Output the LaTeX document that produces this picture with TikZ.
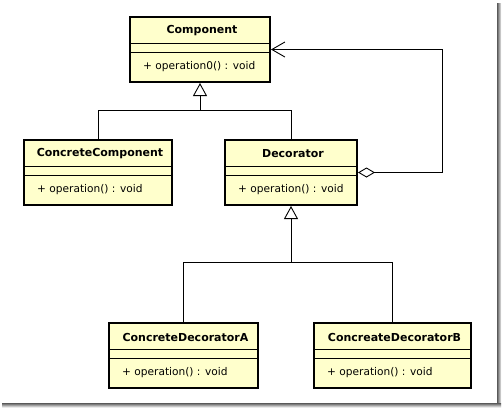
\documentclass[tikz,border=0pt]{standalone}
\usepackage{fontspec}
\setmainfont{DejaVu Sans}
\usetikzlibrary{arrows.meta,calc}
\definecolor{umlfill}{HTML}{FFFFCC}
\begin{document}
\begin{tikzpicture}[x=1pt,y=-1pt,
  classbox/.style={draw,fill=umlfill,line width=2pt,minimum height=65pt,inner sep=0pt,anchor=north west},
  titletext/.style={font=\fontsize{11}{13}\selectfont\bfseries,inner sep=0pt,anchor=center},
  optext/.style={font=\fontsize{10.6}{12}\selectfont,inner sep=0pt,anchor=west},
  divider/.style={line width=0.9pt},
  conn/.style={line width=0.9pt},
  gen/.style={conn,-{Triangle[open,length=13pt,width=14pt,line width=0.9pt]}},
  shadowR/.style={left color=black!65,right color=black!8,draw=none},
  shadowB/.style={top color=black!65,bottom color=black!8,draw=none}]
\useasboundingbox (0,0) rectangle (502,408);
\fill[white] (0,0) rectangle (502,408);
% frame shadow
\shade[shadowR] (497,3) rectangle (501,406);
\shade[shadowB] (2,403) rectangle (501,407);

% class macro-like drawing
\newcommand{\umlclass}[6]{%
  % #1 name, #2 left x, #3 top y, #4 width, #5 title, #6 operation
  \node[classbox,minimum width=#4pt] (#1) at (#2,#3) {};
  \draw[divider] ($(#1.north west)+(0,27)$) -- ($(#1.north east)+(0,27)$);
  \draw[divider] ($(#1.north west)+(0,36)$) -- ($(#1.north east)+(0,36)$);
  \node[titletext] (#1-t) at ($(#1.north)+(2,15)$) {#5};
  \node[optext] (#1-o) at ($(#1.north west)+(14,51)$) {#6};
}

\umlclass{comp}{129}{16}{140}{Component}{+ operation0() : void}
\umlclass{cc}{23}{139}{148}{ConcreteComponent}{+ operation() : void}
\umlclass{dec}{224}{139}{132}{Decorator}{+ operation() : void}
\umlclass{cda}{108}{322}{149}{ConcreteDecoratorA}{+ operation() : void}
\umlclass{cdb}{313}{322}{157}{ConcreateDecoratorB}{+ operation() : void}

% generalization to Component
\coordinate (j1) at (comp.south |- 0,110);
\draw[conn] (cc.north) |- (j1);
\draw[conn] (dec.north) |- (j1);
\draw[gen] (j1) -- (comp.south);

% generalization to Decorator
\coordinate (j2) at (dec.south |- 0,262);
\draw[conn] (cda.north) |- (j2);
\draw[conn] (cdb.north) |- (j2);
\draw[gen] (j2) -- (dec.south);

% aggregation / association
\coordinate (a1) at (442,0 |- dec.east);
\coordinate (a2) at (442,0 |- comp.east);
\draw[conn,{Diamond[open,length=17pt,width=10pt,line width=0.9pt]}-{Straight Barb[length=13pt,width=15pt,line width=0.9pt]}]
  (dec.east) -- (a1) -- (a2) -- (comp.east);
\end{tikzpicture}
\end{document}
